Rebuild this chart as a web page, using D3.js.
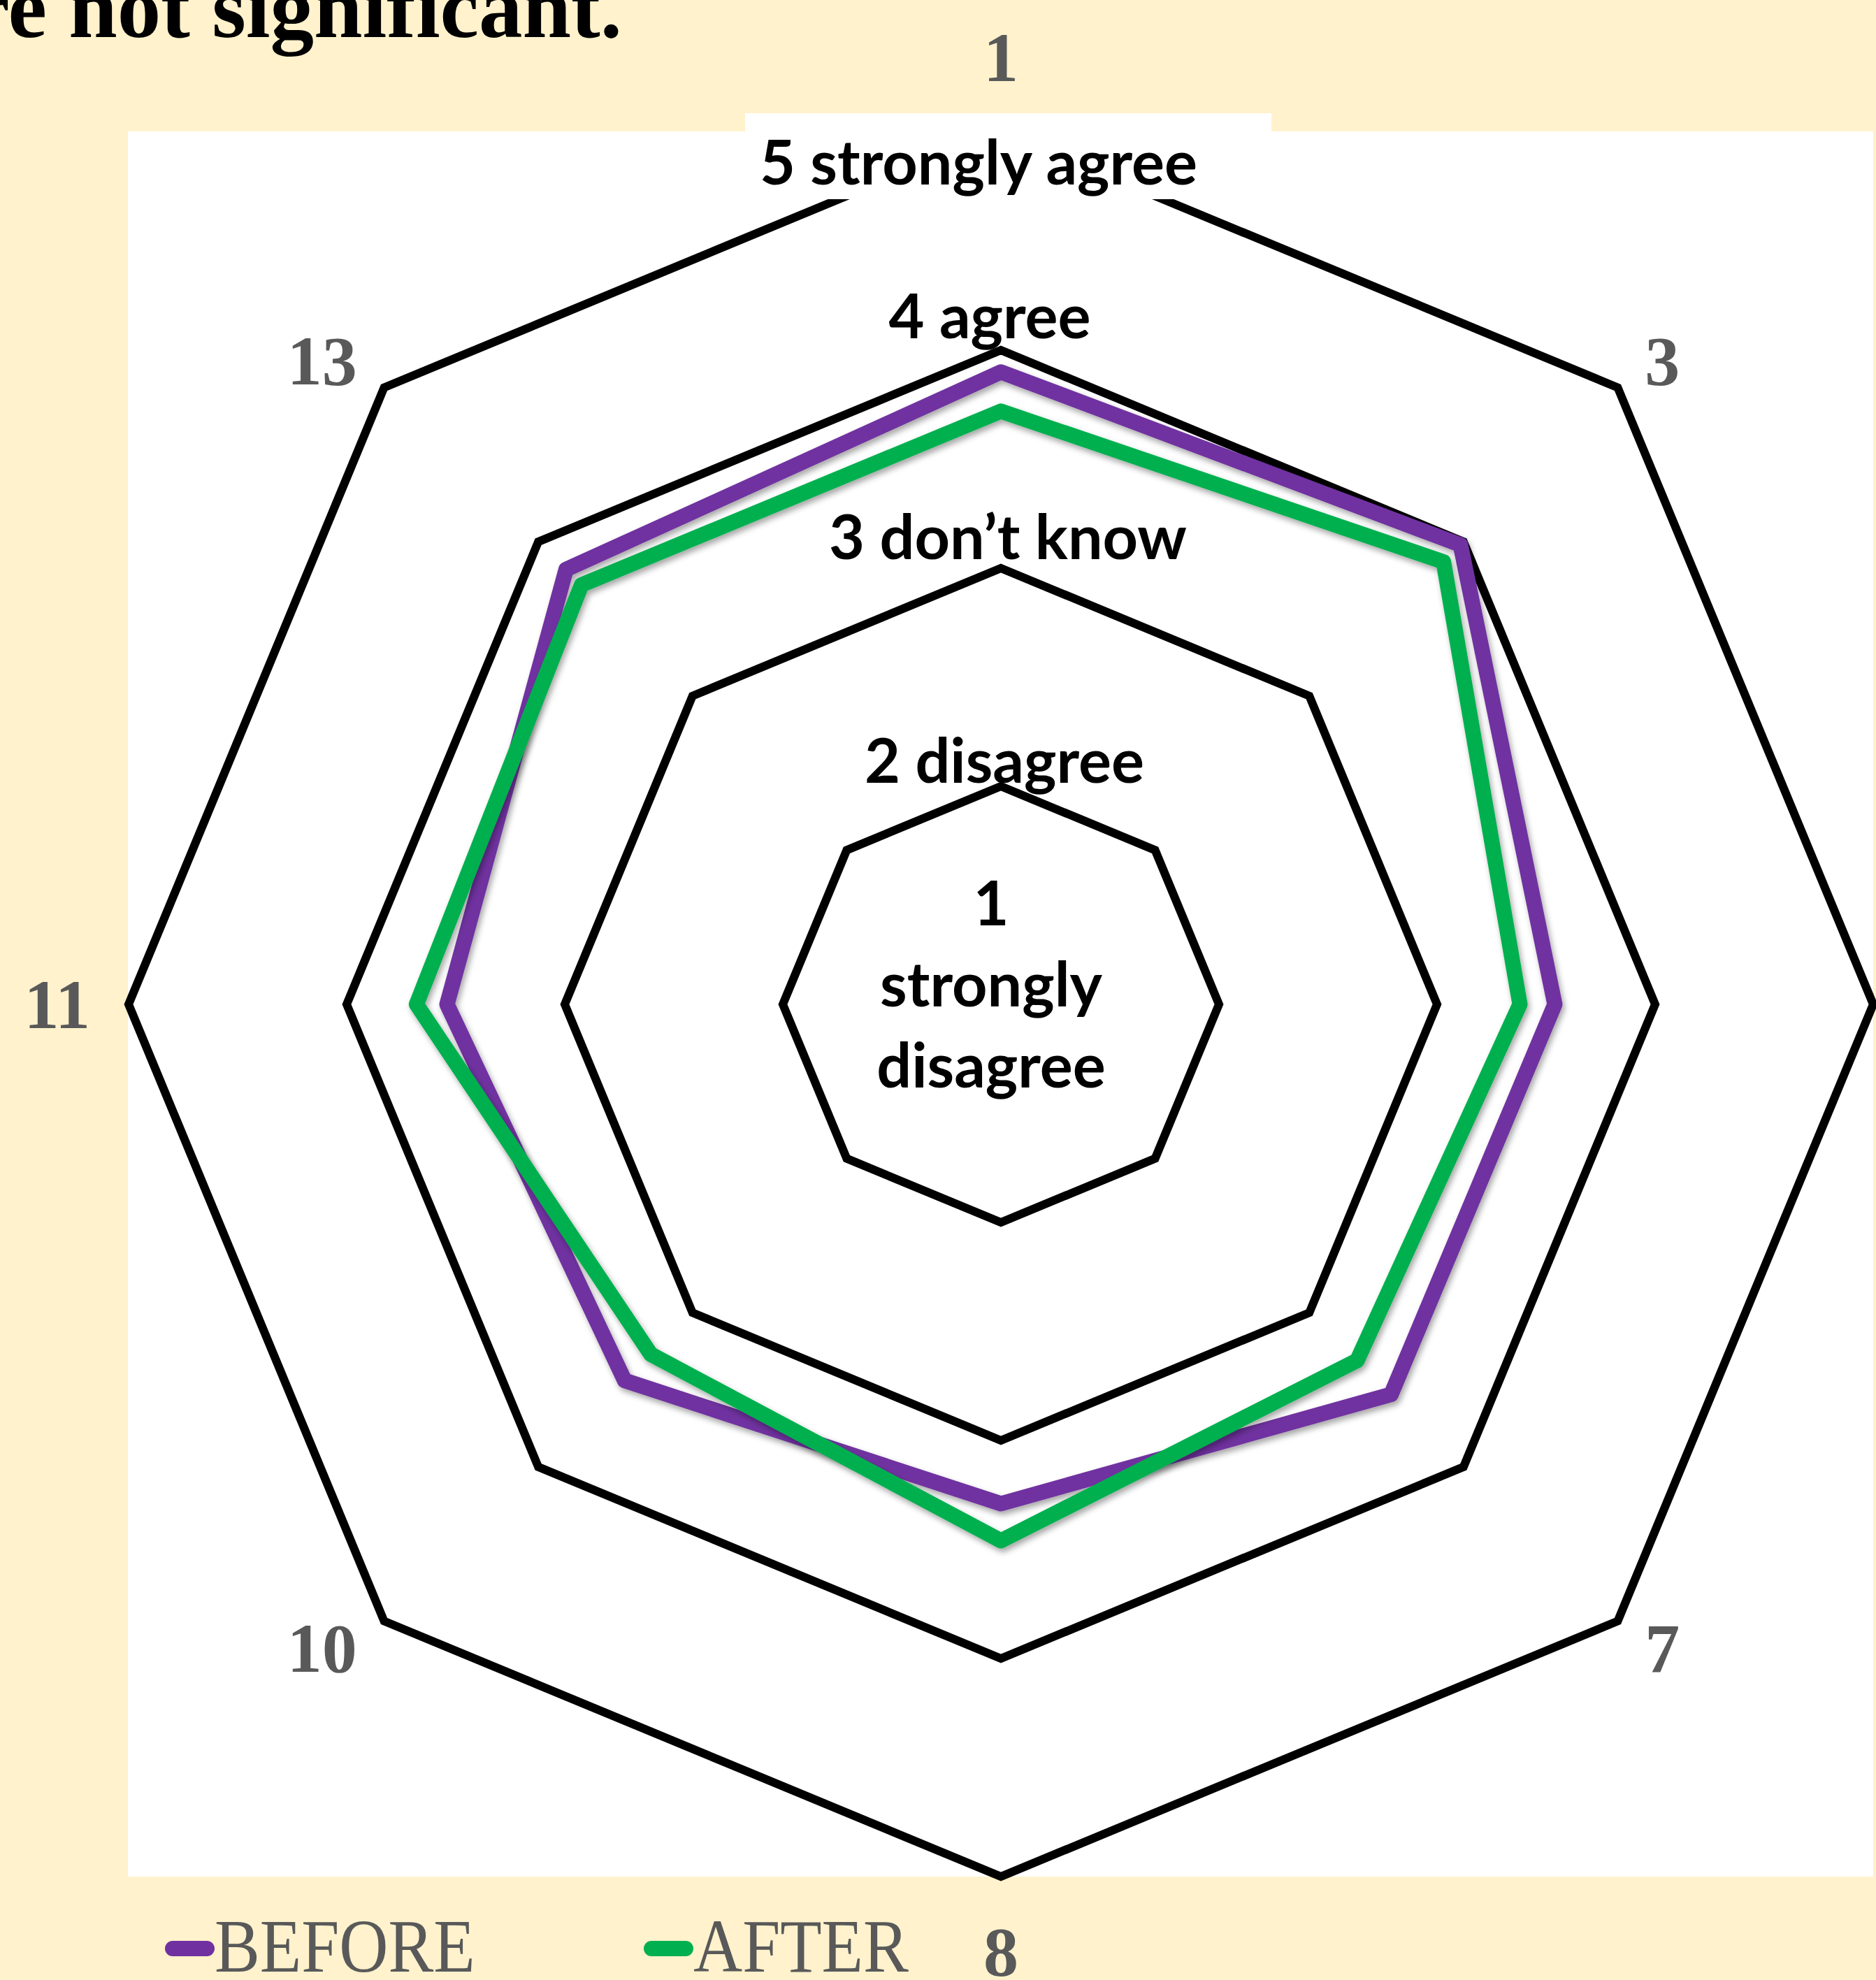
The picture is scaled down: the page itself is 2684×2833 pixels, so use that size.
<!DOCTYPE html>
<meta charset="utf-8">
<style>
    body { margin: 0; background: #FFF2CC; }
    svg { display: block; }
</style>
<svg width="2684" height="2833"></svg>
<script src="https://d3js.org/d3.v7.min.js"></script>
<script>
    // data
    var categories = ["1", "3", "5", "7", "8", "10", "11", "13"];
    var before = [3.90, 3.98, 3.54, 3.53, 3.29, 3.44, 3.54, 3.82];
    var after = [3.72, 3.87, 3.38, 3.31, 3.46, 3.27, 3.68, 3.72];
    var levels = [2, 3, 4, 5];
    var levelValues = [1, 2, 3, 4, 5];
    var levelLabels = [["1", "strongly", "disagree"], ["2 disagree"], ["3 don’t know"], ["4 agree"], ["5 strongly agree"]];
    var seriesNames = ["BEFORE", "AFTER"];

    var svg = d3.select("svg"),
        width = +svg.attr("width"),
        height = +svg.attr("height"),
        cx = 1432,
        cy = 1437,
        R = 1248;

    var colors = d3.scaleOrdinal().domain(seriesNames).range(["#7030A0", "#00B050"]);
    var r = d3.scaleLinear().domain([1, 5]).range([0, R]);
    var angle = d3.scaleLinear().domain([0, categories.length]).range([0, 2 * Math.PI]);

    var defs = svg.append("defs");
    defs.append("filter")
        .attr("id", "shadow")
        .attr("x", "-10%").attr("y", "-10%").attr("width", "120%").attr("height", "120%")
        .append("feDropShadow")
        .attr("dx", 3).attr("dy", 5)
        .attr("stdDeviation", 4)
        .attr("flood-color", "#000")
        .attr("flood-opacity", 0.35);

    // background + plot area
    svg.append("rect").attr("width", width).attr("height", height).attr("fill", "#FFF2CC");
    svg.append("rect")
        .attr("x", 183).attr("y", 188)
        .attr("width", 2680 - 183).attr("height", 2685 - 188)
        .attr("fill", "#fff");

    var g = svg.append("g").attr("transform", `translate(${cx},${cy})`);

    function point(v, i) {
        var a = angle(i);
        return [Math.sin(a) * r(v), -Math.cos(a) * r(v)];
    }

    // octagon gridlines
    g.selectAll(".grid")
        .data(levels)
        .enter()
        .append("polygon")
        .attr("class", "grid")
        .attr("points", function (lv) {
            return categories.map(function (c, i) { return point(lv, i); }).join(" ");
        })
        .attr("fill", "none")
        .attr("stroke", "#000")
        .attr("stroke-width", 12)
        .attr("stroke-linejoin", "miter");

    // series
    var line = d3.line().curve(d3.curveLinearClosed);
    [before, after].forEach(function (vals, k) {
        g.append("path")
            .attr("d", line(vals.map(function (v, i) { return point(v, i); })))
            .attr("fill", "none")
            .attr("stroke", colors(seriesNames[k]))
            .attr("stroke-width", 22)
            .attr("stroke-linejoin", "round")
            .attr("filter", "url(#shadow)");
    });

    // white box behind top label
    svg.append("rect")
        .attr("x", 1066).attr("y", 162)
        .attr("width", 1819 - 1066).attr("height", 285 - 162)
        .attr("fill", "#fff");

    var labels = svg.append("g").attr("transform", `translate(${cx},${cy})`);

    // level labels (text boxes on the top spoke)
    var labelShift = [[-14, -113], [5, -5], [10, -13], [-16, -17], [-32, 75]];
    levelValues.forEach(function (v, i) {
        var t = labels.append("text")
            .attr("text-anchor", "middle")
            .attr("font-family", "Lato, 'Open Sans', sans-serif")
            .attr("font-weight", "bold")
            .attr("font-size", 88)
            .attr("fill", "#000");
        var x0 = labelShift[i][0];
        var y0 = (v === 1 ? 0 : -r(v)) + labelShift[i][1];
        levelLabels[i].forEach(function (s, j) {
            t.append("tspan")
                .attr("x", x0)
                .attr("y", y0 + j * 116)
                .text(s);
        });
    });

    // category labels (the right-hand one falls outside the frame)
    function labelX(i) { return Math.sin(angle(i)) * (R + 55); }
    labels.selectAll(".cat")
        .data(categories.filter(function (d, i) { return cx + labelX(i) < width; }))
        .enter()
        .append("text")
        .attr("class", "cat")
        .each(function (d) {
            var i = categories.indexOf(d),
                s = Math.sin(angle(i)),
                c = Math.cos(angle(i));
            d3.select(this)
                .attr("x", labelX(i))
                .attr("y", -c * (R + 55) - (Math.abs(s) < 0.01 ? c * 52 : 0))
                .attr("text-anchor", Math.abs(s) < 0.01 ? "middle" : (s > 0 ? "start" : "end"));
        })
        .attr("dy", "0.34em")
        .attr("font-family", "'Liberation Serif', 'DejaVu Serif', serif")
        .attr("font-weight", "bold")
        .attr("font-size", 100)
        .attr("fill", "#595959")
        .text(function (d) { return d; });

    // legend
    var legendX = [236, 921];
    seriesNames.forEach(function (name, k) {
        var lg = svg.append("g").attr("transform", `translate(${legendX[k]},2788)`);
        lg.append("line")
            .attr("x1", 11).attr("x2", 60)
            .attr("stroke", colors(name))
            .attr("stroke-width", 22)
            .attr("stroke-linecap", "round");
        lg.append("text")
            .attr("transform", "translate(71,33) scale(0.9,1)")
            .attr("font-family", "'Liberation Serif', 'DejaVu Serif', serif")
            .attr("font-size", 108)
            .attr("fill", "#595959")
            .text(name);
    });

    // tail of the slide title, cut by the frame
    svg.append("text")
        .attr("x", 890)
        .attr("y", 53)
        .attr("text-anchor", "end")
        .attr("font-family", "'Liberation Serif', 'DejaVu Serif', serif")
        .attr("font-weight", "bold")
        .attr("font-size", 125)
        .attr("fill", "#000")
        .text("are not significant.");
</script>
